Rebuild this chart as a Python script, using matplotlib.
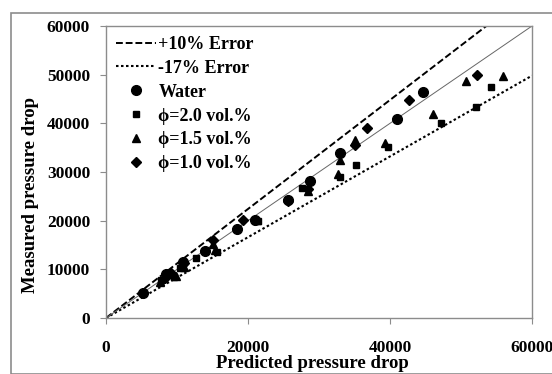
import numpy as np
import matplotlib
matplotlib.use("Agg")
import matplotlib.pyplot as plt
from matplotlib.patches import Rectangle

plt.rcParams['font.family'] = ['Liberation Serif', 'DejaVu Serif']
plt.rcParams['font.weight'] = 'bold'

# data (predicted, measured)
water_x = [5200, 8500, 10900, 13900, 18400, 21000, 25600, 28700, 33000, 41000, 44700]
water_y = [5100, 9000, 11500, 13800, 18300, 20200, 24200, 28100, 33900, 40900, 46500]

phi20_x = [7800, 9600, 10400, 12700, 15600, 21400, 27600, 33000, 35200, 39700, 47200, 52100, 54200]
phi20_y = [7800, 8400, 10300, 12300, 13600, 20000, 26700, 29000, 31400, 35100, 40100, 43400, 47500]

phi15_x = [7600, 9800, 11000, 15300, 15100, 21200, 28400, 32700, 33000, 35100, 39300, 46100, 50700, 55900]
phi15_y = [7500, 8600, 10500, 14000, 15200, 20100, 26100, 29500, 32500, 36500, 36000, 41900, 48700, 49700]

phi10_x = [8300, 9200, 11000, 15100, 19300, 25700, 28500, 35000, 36800, 42700, 52300]
phi10_y = [8200, 9300, 11200, 16000, 20100, 24000, 26600, 35500, 39000, 44800, 49900]

ref_x = [0, 60000]
plus_factor = 1.12
minus_factor = 0.83

fig = plt.figure(figsize=(5.52, 3.74), dpi=100)
fig.patches.append(Rectangle((11/552, 0), 1, 1 - 13/374, transform=fig.transFigure,
                             fill=False, edgecolor='#8c8c8c', linewidth=1.2))
ax = fig.add_axes([106/552, 1 - 318/374, 426/552, 292/374])

rx = np.array(ref_x, dtype=float)
ax.plot(rx, rx * plus_factor, color='black', linestyle=(0, (3.5, 1.5)), linewidth=1.4,
        label='+10% Error')
ax.plot(rx, rx * minus_factor, color='black', linestyle=(0, (1.2, 1.2)), linewidth=1.5,
        label='-17% Error')
ax.plot(rx, rx, color='#666666', linewidth=0.7)

ax.plot(water_x, water_y, 'o', color='black', markersize=7, label='Water')
ax.plot(phi20_x, phi20_y, 's', color='black', markersize=5, label='ϕ=2.0 vol.%')
ax.plot(phi15_x, phi15_y, '^', color='black', markersize=6, label='ϕ=1.5 vol.%')
ax.plot(phi10_x, phi10_y, 'D', color='black', markersize=5, label='ϕ=1.0 vol.%')

ax.set_xlim(0, 60000)
ax.set_ylim(0, 60000)
ax.set_xticks([0, 20000, 40000, 60000])
ax.set_yticks(np.arange(0, 60001, 10000))

for s in ax.spines.values():
    s.set_color('#8c8c8c')
    s.set_linewidth(1.0)

ax.tick_params(axis='x', direction='out', length=4.5, pad=11, labelsize=12.5,
               color='#8c8c8c')
ax.tick_params(axis='y', direction='out', length=4.5, pad=7, labelsize=12.5,
               color='#8c8c8c')

ax.set_xlabel('Predicted pressure drop', fontsize=13.5, fontweight='bold')
ax.set_ylabel('Measured pressure drop', fontsize=13.5, fontweight='bold')
ax.xaxis.set_label_coords(0.485, -0.128)
ax.yaxis.set_label_coords(-0.158, 0.42)

leg = ax.legend(loc='upper left', frameon=False, fontsize=13, handlelength=2.2,
                handletextpad=0.15, labelspacing=0.38, borderaxespad=0.35,
                borderpad=0.2)
for t in leg.get_texts():
    t.set_fontweight('bold')

fig.savefig('out.png', dpi=100)
